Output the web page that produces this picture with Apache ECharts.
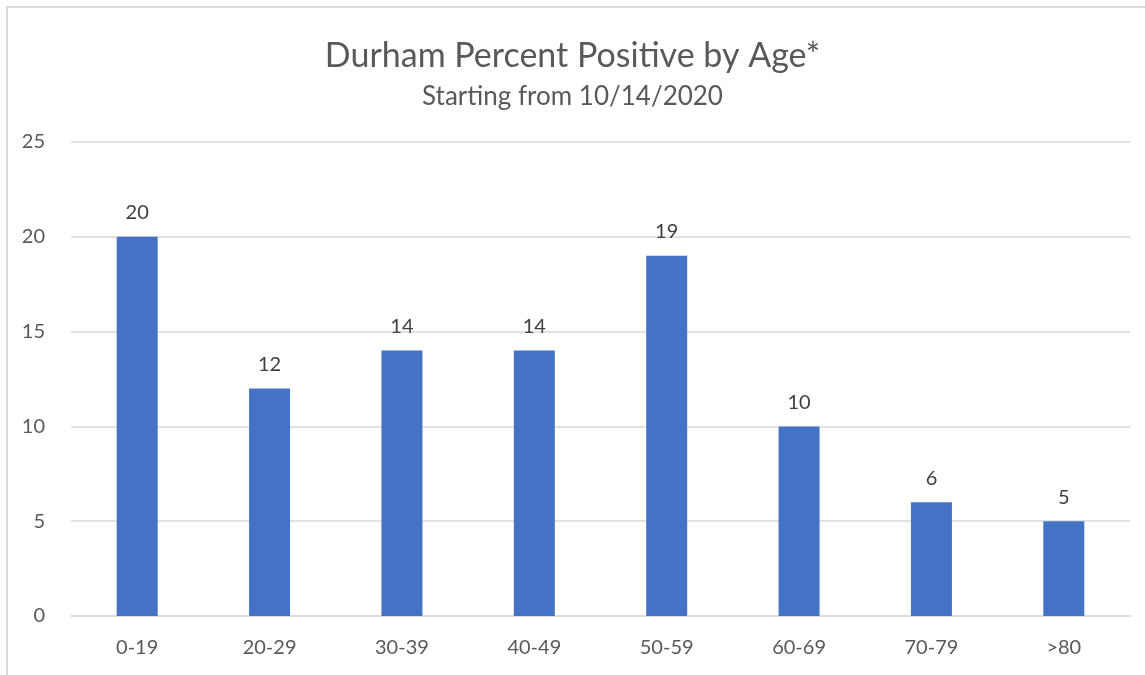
<!DOCTYPE html>
<html>
<head>
<meta charset="utf-8">
<script src="https://cdn.jsdelivr.net/npm/echarts@6/dist/echarts.min.js"></script>
<style>
  html, body { margin: 0; padding: 0; background: #fff; }
  #chart { width: 1145px; height: 675px; }
</style>
</head>
<body>
<div id="chart"></div>
<script>
const ageGroups = ['0-19', '20-29', '30-39', '40-49', '50-59', '60-69', '70-79', '>80'];
const percentPositive = [20, 12, 14, 14, 19, 10, 6, 5];

const chart = echarts.init(document.getElementById('chart'));
const font = 'Lato, "Open Sans", sans-serif';

chart.setOption({
  animation: false,
  textStyle: { fontFamily: font },
  title: {
    text: 'Durham Percent Positive by Age*',
    subtext: 'Starting from 10/14/2020',
    left: 'center',
    top: 34,
    itemGap: 11,
    textStyle: { fontSize: 34, fontWeight: 'normal', color: '#595959', fontFamily: font },
    subtextStyle: { fontSize: 26, color: '#595959', fontFamily: font }
  },
  graphic: [{
    type: 'polyline',
    shape: { points: [[7, 675], [7, 7], [1145, 7]] },
    style: { stroke: '#d9d9d9', lineWidth: 2, fill: null }
  }],
  grid: { left: 71, right: 15, top: 142, bottom: 59 },
  xAxis: {
    type: 'category',
    data: ageGroups,
    axisTick: { show: false },
    axisLine: { lineStyle: { color: '#d9d9d9', width: 1.5 } },
    axisLabel: { color: '#595959', fontSize: 20, margin: 22 }
  },
  yAxis: {
    type: 'value',
    min: 0,
    max: 25,
    interval: 5,
    axisLine: { show: false },
    axisTick: { show: false },
    splitLine: { lineStyle: { color: '#d9d9d9', width: 1.5 } },
    axisLabel: { color: '#595959', fontSize: 20, margin: 26 }
  },
  series: [{
    type: 'bar',
    data: percentPositive,
    barWidth: 41,
    itemStyle: { color: '#4472c4' },
    label: { show: true, position: 'top', distance: 14, color: '#404040', fontSize: 20 }
  }]
});
</script>
</body>
</html>
